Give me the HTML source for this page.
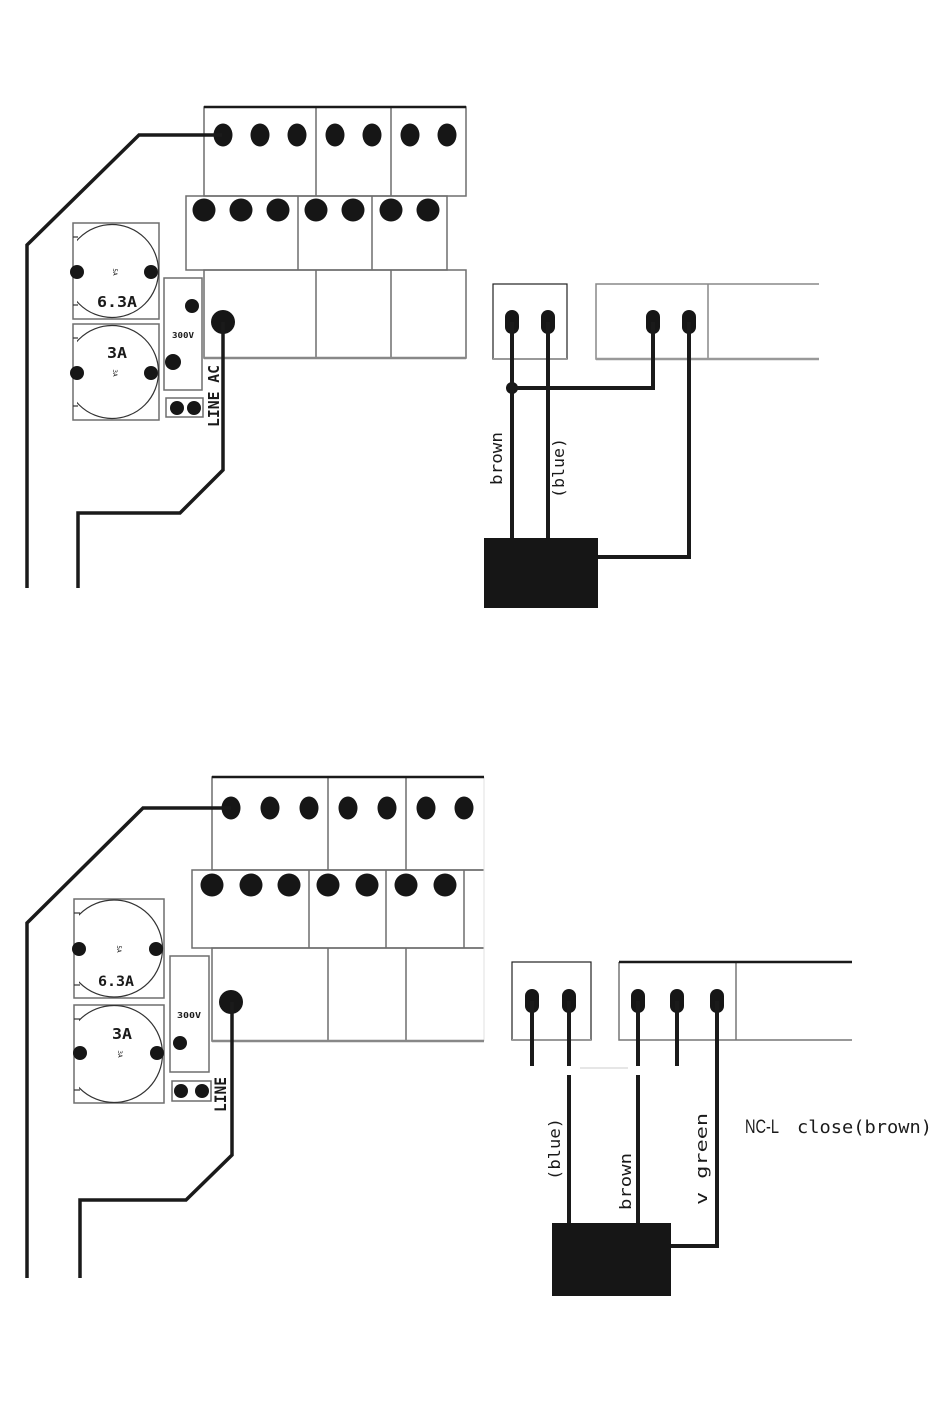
<!DOCTYPE html>
<html><head><meta charset="utf-8"><style>
html,body{margin:0;padding:0;background:#fff;}
svg{display:block;}
.mono{font-family:"DejaVu Sans Mono","Liberation Mono",monospace;fill:#1a1a1a;}
.sans{font-family:"Liberation Sans","DejaVu Sans",sans-serif;fill:#1a1a1a;}
</style></head><body>
<svg width="950" height="1425" viewBox="0 0 950 1425" xmlns="http://www.w3.org/2000/svg">
<defs>
<clipPath id="c1"><rect x="77" y="223" width="82" height="96"/></clipPath>
<clipPath id="c2"><rect x="77" y="324" width="82" height="96"/></clipPath>
<clipPath id="c3"><rect x="79" y="899" width="85" height="99"/></clipPath>
<clipPath id="c4"><rect x="79" y="1005" width="85" height="98"/></clipPath>
</defs>
<rect width="950" height="1425" fill="#fff"/>

<!-- ================= TOP DIAGRAM ================= -->
<g fill="none" stroke="#6e6e6e" stroke-width="1.5">
  <rect x="204" y="107" width="262" height="89"/>
  <line x1="316" y1="107" x2="316" y2="196"/>
  <line x1="391" y1="107" x2="391" y2="196"/>
  <rect x="186" y="196" width="261" height="74"/>
  <line x1="298" y1="196" x2="298" y2="270"/>
  <line x1="372" y1="196" x2="372" y2="270"/>
  <rect x="204" y="270" width="262" height="88"/>
  <line x1="316" y1="270" x2="316" y2="358"/>
  <line x1="391" y1="270" x2="391" y2="358"/>
</g>
<line x1="204" y1="107" x2="466" y2="107" stroke="#1a1a1a" stroke-width="2.5"/>
<line x1="204" y1="358" x2="466" y2="358" stroke="#888" stroke-width="2.5"/>

<g fill="#161616">
  <ellipse cx="223" cy="135" rx="9.5" ry="11.5"/>
  <ellipse cx="260" cy="135" rx="9.5" ry="11.5"/>
  <ellipse cx="297" cy="135" rx="9.5" ry="11.5"/>
  <ellipse cx="335" cy="135" rx="9.5" ry="11.5"/>
  <ellipse cx="372" cy="135" rx="9.5" ry="11.5"/>
  <ellipse cx="410" cy="135" rx="9.5" ry="11.5"/>
  <ellipse cx="447" cy="135" rx="9.5" ry="11.5"/>

  <circle cx="204" cy="210" r="11.5"/>
  <circle cx="241" cy="210" r="11.5"/>
  <circle cx="278" cy="210" r="11.5"/>
  <circle cx="316" cy="210" r="11.5"/>
  <circle cx="353" cy="210" r="11.5"/>
  <circle cx="391" cy="210" r="11.5"/>
  <circle cx="428" cy="210" r="11.5"/>

  <circle cx="223" cy="322" r="12"/>
</g>

<g fill="none" stroke="#6e6e6e" stroke-width="1.5">
  <rect x="73" y="223" width="86" height="96"/>
  <rect x="73" y="324" width="86" height="96"/>
  <rect x="164" y="278" width="38" height="112"/>
  <rect x="166" y="398" width="37" height="19"/>
</g>
<g fill="none" stroke="#333" stroke-width="1.2">
  <circle cx="112" cy="271" r="46.5" clip-path="url(#c1)"/>
  <line x1="73" y1="237" x2="78" y2="237"/>
  <line x1="73" y1="305" x2="78" y2="305"/>
  <circle cx="112" cy="372" r="46.5" clip-path="url(#c2)"/>
  <line x1="73" y1="338" x2="78" y2="338"/>
  <line x1="73" y1="406" x2="78" y2="406"/>
</g>
<g fill="#161616">
  <circle cx="77" cy="272" r="7"/>
  <circle cx="151" cy="272" r="7"/>
  <circle cx="77" cy="373" r="7"/>
  <circle cx="151" cy="373" r="7"/>
  <circle cx="192" cy="306" r="7"/>
  <circle cx="173" cy="362" r="8"/>
  <circle cx="177" cy="408" r="7"/>
  <circle cx="194" cy="408" r="7"/>
</g>
<text class="mono" x="117" y="307" font-size="15" font-weight="bold" text-anchor="middle" textLength="40" lengthAdjust="spacingAndGlyphs">6.3A</text>
<text class="mono" x="117" y="358" font-size="15" font-weight="bold" text-anchor="middle" textLength="20" lengthAdjust="spacingAndGlyphs">3A</text>
<text class="mono" transform="translate(113,272) rotate(90)" font-size="6" text-anchor="middle" fill="#555">5A</text>
<text class="mono" transform="translate(113,373) rotate(90)" font-size="6" text-anchor="middle" fill="#555">3A</text>
<text class="mono" x="183" y="338" font-size="8" font-weight="bold" text-anchor="middle" textLength="22" lengthAdjust="spacingAndGlyphs">300V</text>
<text class="mono" transform="translate(219,427) rotate(-90)" font-size="15" font-weight="bold" textLength="62" lengthAdjust="spacingAndGlyphs">LINE AC</text>

<g fill="none" stroke="#1a1a1a" stroke-width="3.5" stroke-linejoin="miter">
  <polyline points="222,135 139,135 27,245 27,588"/>
  <polyline points="223,322 223,470 180,513 78,513 78,588"/>
</g>

<!-- top right -->
<rect x="493" y="284" width="74" height="75" fill="none" stroke="#222" stroke-width="1.2"/>
<line x1="493" y1="359" x2="567" y2="359" stroke="#999" stroke-width="2"/>
<g fill="none" stroke="#888" stroke-width="1.5">
  <polyline points="819,284 596,284 596,359 819,359"/>
  <line x1="708" y1="284" x2="708" y2="359"/>
</g>
<line x1="596" y1="359" x2="819" y2="359" stroke="#999" stroke-width="2.5"/>
<g fill="#161616">
  <rect x="505" y="310" width="14" height="24" rx="7"/>
  <rect x="541" y="310" width="14" height="24" rx="7"/>
  <rect x="646" y="310" width="14" height="24" rx="7"/>
  <rect x="682" y="310" width="14" height="24" rx="7"/>
  <circle cx="512" cy="388" r="6"/>
</g>
<g fill="none" stroke="#1a1a1a" stroke-width="4">
  <line x1="512" y1="322" x2="512" y2="540"/>
  <line x1="548" y1="322" x2="548" y2="540"/>
  <polyline points="512,388 653,388 653,322"/>
  <polyline points="689,322 689,557 596,557"/>
</g>
<rect x="484" y="538" width="114" height="70" fill="#161616"/>
<text class="mono" transform="translate(502,485) rotate(-90)" font-size="16" textLength="53" lengthAdjust="spacingAndGlyphs">brown</text>
<text class="mono" transform="translate(564,498) rotate(-90)" font-size="16" textLength="60" lengthAdjust="spacingAndGlyphs">(blue)</text>

<!-- ================= BOTTOM DIAGRAM ================= -->
<g fill="none" stroke="#6e6e6e" stroke-width="1.5">
  <polyline points="484,777 212,777 212,870 484,870"/>
  <line x1="328" y1="777" x2="328" y2="870"/>
  <line x1="406" y1="777" x2="406" y2="870"/>
  <polyline points="484,870 192,870 192,948 484,948"/>
  <line x1="309" y1="870" x2="309" y2="948"/>
  <line x1="386" y1="870" x2="386" y2="948"/>
  <line x1="464" y1="870" x2="464" y2="948"/>
  <polyline points="484,948 212,948 212,1041 484,1041"/>
  <line x1="328" y1="948" x2="328" y2="1041"/>
  <line x1="406" y1="948" x2="406" y2="1041"/>
</g>
<line x1="484" y1="777" x2="484" y2="1041" stroke="#e2e2e2" stroke-width="1"/>
<line x1="212" y1="777" x2="484" y2="777" stroke="#1a1a1a" stroke-width="2.5"/>
<line x1="212" y1="1041" x2="484" y2="1041" stroke="#888" stroke-width="2.5"/>

<g fill="#161616">
  <ellipse cx="231" cy="808" rx="9.5" ry="11.5"/>
  <ellipse cx="270" cy="808" rx="9.5" ry="11.5"/>
  <ellipse cx="309" cy="808" rx="9.5" ry="11.5"/>
  <ellipse cx="348" cy="808" rx="9.5" ry="11.5"/>
  <ellipse cx="387" cy="808" rx="9.5" ry="11.5"/>
  <ellipse cx="426" cy="808" rx="9.5" ry="11.5"/>
  <ellipse cx="464" cy="808" rx="9.5" ry="11.5"/>

  <circle cx="212" cy="885" r="11.5"/>
  <circle cx="251" cy="885" r="11.5"/>
  <circle cx="289" cy="885" r="11.5"/>
  <circle cx="328" cy="885" r="11.5"/>
  <circle cx="367" cy="885" r="11.5"/>
  <circle cx="406" cy="885" r="11.5"/>
  <circle cx="445" cy="885" r="11.5"/>

  <circle cx="231" cy="1002" r="12"/>
</g>

<g fill="none" stroke="#6e6e6e" stroke-width="1.5">
  <rect x="74" y="899" width="90" height="99"/>
  <rect x="74" y="1005" width="90" height="98"/>
  <rect x="170" y="956" width="39" height="116"/>
  <rect x="172" y="1081" width="39" height="20"/>
</g>
<g fill="none" stroke="#333" stroke-width="1.2">
  <circle cx="114" cy="948.5" r="48.5" clip-path="url(#c3)"/>
  <line x1="74" y1="913" x2="80" y2="913"/>
  <line x1="74" y1="985" x2="80" y2="985"/>
  <circle cx="114" cy="1054" r="48.5" clip-path="url(#c4)"/>
  <line x1="74" y1="1019" x2="80" y2="1019"/>
  <line x1="74" y1="1090" x2="80" y2="1090"/>
</g>
<g fill="#161616">
  <circle cx="79" cy="949" r="7"/>
  <circle cx="156" cy="949" r="7"/>
  <circle cx="80" cy="1053" r="7"/>
  <circle cx="157" cy="1053" r="7"/>
  <circle cx="180" cy="1043" r="7"/>
  <circle cx="181" cy="1091" r="7"/>
  <circle cx="202" cy="1091" r="7"/>
</g>
<text class="mono" x="116" y="986" font-size="14" font-weight="bold" text-anchor="middle" textLength="36" lengthAdjust="spacingAndGlyphs">6.3A</text>
<text class="mono" x="122" y="1039" font-size="15" font-weight="bold" text-anchor="middle" textLength="20" lengthAdjust="spacingAndGlyphs">3A</text>
<text class="mono" transform="translate(117,949) rotate(90)" font-size="6" text-anchor="middle" fill="#555">5A</text>
<text class="mono" transform="translate(118,1054) rotate(90)" font-size="6" text-anchor="middle" fill="#555">3A</text>
<text class="mono" x="189" y="1018" font-size="8" font-weight="bold" text-anchor="middle" textLength="24" lengthAdjust="spacingAndGlyphs">300V</text>
<text class="mono" transform="translate(226,1112) rotate(-90)" font-size="16" font-weight="bold" textLength="35" lengthAdjust="spacingAndGlyphs">LINE</text>

<g fill="none" stroke="#1a1a1a" stroke-width="3.5" stroke-linejoin="miter">
  <polyline points="231,808 143,808 27,923 27,1278"/>
  <polyline points="232,1002 232,1155 186,1200 80,1200 80,1278"/>
</g>

<!-- bottom right -->
<rect x="512" y="962" width="79" height="78" fill="none" stroke="#222" stroke-width="1.2"/>
<line x1="512" y1="1040" x2="591" y2="1040" stroke="#999" stroke-width="2"/>
<g fill="none" stroke="#777" stroke-width="1.5">
  <polyline points="619,962 619,1040 852,1040"/>
  <line x1="736" y1="962" x2="736" y2="1040"/>
</g>
<line x1="619" y1="962" x2="852" y2="962" stroke="#1a1a1a" stroke-width="2.5"/>
<line x1="580" y1="1068" x2="628" y2="1068" stroke="#ddd" stroke-width="1.5"/>
<g fill="#161616">
  <rect x="525" y="989" width="14" height="24" rx="7"/>
  <rect x="562" y="989" width="14" height="24" rx="7"/>
  <rect x="631" y="989" width="14" height="24" rx="7"/>
  <rect x="670" y="989" width="14" height="24" rx="7"/>
  <rect x="710" y="989" width="14" height="24" rx="7"/>
</g>
<g fill="none" stroke="#1a1a1a" stroke-width="4">
  <line x1="532" y1="1001" x2="532" y2="1066"/>
  <line x1="569" y1="1001" x2="569" y2="1066"/>
  <line x1="569" y1="1075" x2="569" y2="1225"/>
  <line x1="638" y1="1001" x2="638" y2="1066"/>
  <line x1="638" y1="1075" x2="638" y2="1225"/>
  <line x1="677" y1="1001" x2="677" y2="1066"/>
  <polyline points="717,1001 717,1246 670,1246"/>
</g>
<rect x="552" y="1223" width="119" height="73" fill="#161616"/>
<text class="mono" transform="translate(560,1180) rotate(-90)" font-size="16" textLength="62" lengthAdjust="spacingAndGlyphs">(blue)</text>
<text class="mono" transform="translate(631,1210) rotate(-90)" font-size="16" textLength="57" lengthAdjust="spacingAndGlyphs">brown</text>
<text class="mono" transform="translate(707,1205) rotate(-90)" font-size="16" textLength="92" lengthAdjust="spacingAndGlyphs">v green</text>
<text class="sans" x="745" y="1133" font-size="19" textLength="34" lengthAdjust="spacingAndGlyphs">NC-L</text>
<text class="mono" x="797" y="1133" font-size="18" textLength="135" lengthAdjust="spacingAndGlyphs">close(brown)</text>
</svg>
</body></html>
